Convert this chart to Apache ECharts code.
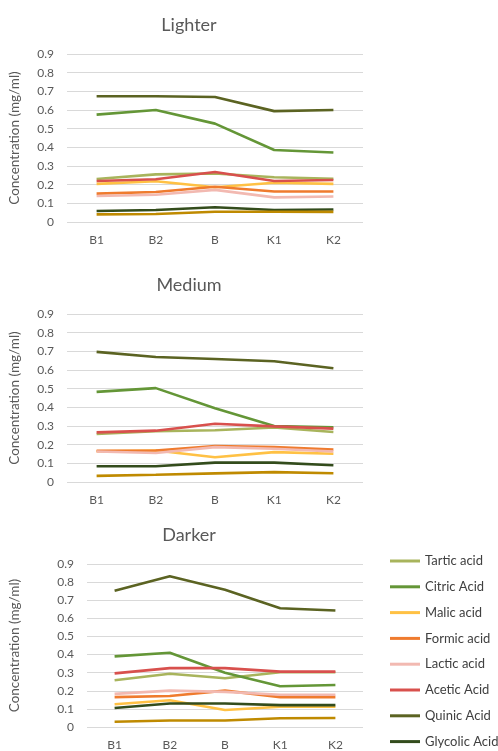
<!DOCTYPE html>
<html>
<head>
<meta charset="utf-8">
<script src="https://cdn.jsdelivr.net/npm/echarts@6/dist/echarts.min.js"></script>
<style>
  html, body { margin: 0; padding: 0; background: #fff; }
  #chart { width: 498px; height: 751px; }
</style>
</head>
<body>
<div id="chart"></div>
<script>
// sample points along the x axis
var categories = ['B1', 'B2', 'B', 'K1', 'K2'];
var acids = ['Tartic acid', 'Citric Acid', 'Malic acid', 'Formic acid', 'Lactic acid', 'Acetic Acid', 'Quinic Acid', 'Glycolic Acid', 'Series 9'];
var panelTitles = ['Lighter', 'Medium', 'Darker'];
var yTicks = [0, 0.1, 0.2, 0.3, 0.4, 0.5, 0.6, 0.7, 0.8, 0.9];

// one row per acid, same order as acids
var lighter = [
    [0.230, 0.255, 0.260, 0.240, 0.232],
    [0.575, 0.600, 0.527, 0.386, 0.372],
    [0.204, 0.218, 0.186, 0.210, 0.204],
    [0.152, 0.161, 0.189, 0.163, 0.163],
    [0.139, 0.146, 0.172, 0.132, 0.137],
    [0.220, 0.229, 0.268, 0.220, 0.225],
    [0.674, 0.674, 0.670, 0.594, 0.600],
    [0.059, 0.064, 0.079, 0.064, 0.067],
    [0.041, 0.043, 0.055, 0.055, 0.054]
];
var medium = [
    [0.257, 0.272, 0.277, 0.292, 0.268],
    [0.483, 0.503, 0.395, 0.300, 0.293],
    [0.165, 0.169, 0.133, 0.160, 0.151],
    [0.167, 0.169, 0.192, 0.187, 0.174],
    [0.163, 0.155, 0.187, 0.178, 0.163],
    [0.266, 0.275, 0.312, 0.298, 0.286],
    [0.697, 0.670, 0.659, 0.647, 0.609],
    [0.084, 0.084, 0.104, 0.104, 0.090],
    [0.033, 0.039, 0.046, 0.053, 0.047]
];
var darker = [
    [0.258, 0.294, 0.269, 0.302, 0.302],
    [0.390, 0.410, 0.300, 0.225, 0.232],
    [0.126, 0.148, 0.094, 0.112, 0.112],
    [0.165, 0.171, 0.201, 0.165, 0.165],
    [0.183, 0.201, 0.194, 0.178, 0.178],
    [0.296, 0.325, 0.325, 0.306, 0.306],
    [0.752, 0.832, 0.758, 0.656, 0.643],
    [0.105, 0.130, 0.130, 0.121, 0.121],
    [0.029, 0.036, 0.036, 0.048, 0.050]
];

var colors = ['#a8b45c', '#649637', '#ffc144', '#ef7b2e', '#f2b9b1', '#d8504d', '#5b6322', '#334c1c', '#bf8a00'];
var font = 'Lato, "Open Sans", sans-serif';
var grey = '#595959';

var panels = [lighter, medium, darker];
var layout = [
    {left: 62, top: 54, nameGap: 45},
    {left: 62, top: 314, nameGap: 45},
    {left: 82, top: 564, nameGap: 65}
];

var titles = [], grids = [], xAxes = [], yAxes = [], series = [];
panels.forEach(function (rows, p) {
    titles.push({
        text: panelTitles[p],
        left: 184, top: layout[p].top - 43,
        textAlign: 'center',
        textStyle: {fontFamily: font, fontSize: 18, fontWeight: 'normal', color: grey}
    });
    grids.push({left: layout[p].left, width: 363 - layout[p].left, top: layout[p].top, height: 168});
    xAxes.push({
        type: 'category', gridIndex: p, data: categories, boundaryGap: true,
        axisLine: {show: false}, axisTick: {show: false},
        axisLabel: {color: grey, fontFamily: font, fontSize: 12, margin: 12}
    });
    yAxes.push({
        type: 'value', gridIndex: p, min: yTicks[0], max: yTicks[yTicks.length - 1], interval: 0.1,
        name: 'Concentration (mg/ml)', nameLocation: 'middle', nameGap: layout[p].nameGap,
        nameTextStyle: {color: grey, fontFamily: font, fontSize: 13.5},
        axisLabel: {color: grey, fontFamily: font, fontSize: 12, margin: 13,
            formatter: function (v) { return v === 0 ? '0' : v.toFixed(1); }},
        splitLine: {lineStyle: {color: '#d9d9d9', width: 1}}
    });
    rows.forEach(function (vals, i) {
        series.push({
            name: acids[i], type: 'line', xAxisIndex: p, yAxisIndex: p,
            data: vals, symbol: 'none', smooth: false,
            lineStyle: {color: colors[i], width: 2.6},
            itemStyle: {color: colors[i]}
        });
    });
});

var myChart = echarts.init(document.getElementById('chart'));
myChart.setOption({
    animation: false,
    title: titles,
    grid: grids,
    xAxis: xAxes,
    yAxis: yAxes,
    legend: {
        data: acids.slice(0, 8),
        orient: 'vertical',
        left: 390, top: 554, bottom: 0,
        padding: 0,
        itemWidth: 30, itemHeight: 3, itemGap: 11.8,
        icon: 'rect',
        textStyle: {color: '#404040', fontFamily: font, fontSize: 13, lineHeight: 14}
    },
    series: series
});
</script>
</body>
</html>
